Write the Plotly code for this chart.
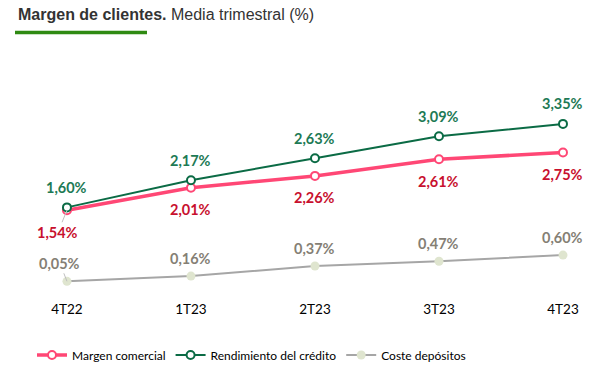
import plotly.graph_objects as go

quarters = ["4T22", "1T23", "2T23", "3T23", "4T23"]
margen = [1.54, 2.01, 2.26, 2.61, 2.75]
rendimiento = [1.60, 2.17, 2.63, 3.09, 3.35]
coste = [0.05, 0.16, 0.37, 0.47, 0.60]

def fmt(v):
    return f"{v:.2f}%".replace(".", ",")

C_M = "#ff4775"
C_R = "#0b6b45"
C_C = "#a6a6a6"
T_M = "#c8102e"
T_R = "#1d7a55"
T_C = "#857f75"

TOP, BOT = 100, 80
PH = 373 - TOP - BOT  # plot height in px

def py(pix):
    # convert a pixel row (from top of figure) to paper y
    return (373 - BOT - pix) / PH

fig = go.Figure()
fig.add_trace(go.Scatter(x=quarters, y=margen, mode="lines+markers", name="Margen comercial",
                         line=dict(color=C_M, width=3.5),
                         marker=dict(symbol="circle", size=8, color="white", line=dict(color=C_M, width=2))))
fig.add_trace(go.Scatter(x=quarters, y=rendimiento, mode="lines+markers", name="Rendimiento del crédito",
                         line=dict(color=C_R, width=2),
                         marker=dict(symbol="circle", size=8, color="white", line=dict(color=C_R, width=2))))
fig.add_trace(go.Scatter(x=quarters, y=coste, mode="lines+markers", name="Coste depósitos",
                         line=dict(color=C_C, width=2),
                         marker=dict(symbol="circle", size=9, color="#dfe5cf", line=dict(width=0))))

lab_font = dict(family="Lato, Carlito, sans-serif", size=14.5)
ann = []
for i, q in enumerate(quarters):
    ann.append(dict(x=q, y=rendimiento[i], text="<b>" + fmt(rendimiento[i]) + "</b>", showarrow=True,
                    arrowcolor="rgba(0,0,0,0)", ax=0, ay=-20, font=dict(color=T_R, **lab_font)))
    lead = i == 0
    ann.append(dict(x=q, y=margen[i], text="<b>" + fmt(margen[i]) + "</b>", showarrow=True,
                    arrowcolor="#bfbfbf" if lead else "rgba(0,0,0,0)", arrowhead=0, arrowwidth=1,
                    ax=-9 if lead else 0, ay=22, font=dict(color=T_M, **lab_font)))
    ann.append(dict(x=q, y=coste[i], text="<b>" + fmt(coste[i]) + "</b>", showarrow=True,
                    arrowcolor="#bfbfbf" if lead else "rgba(0,0,0,0)", arrowhead=0, arrowwidth=1,
                    ax=-7 if lead else 0, ay=-18, font=dict(color=T_C, **lab_font)))

YMIN = -0.195
fig.update_layout(
    width=609, height=373,
    margin=dict(l=0, r=0, t=TOP, b=BOT, autoexpand=False),
    paper_bgcolor="white", plot_bgcolor="white",
    title=dict(text="<b>Margen de clientes.</b> Media trimestral (%)",
               xref="container", yref="container", x=18 / 609, xanchor="left",
               y=1 - 14 / 373, yanchor="middle",
               font=dict(family="Arial, Liberation Sans, sans-serif", size=16, color="#333333")),
    showlegend=True,
    legend=dict(orientation="h", x=32 / 609, xanchor="left", y=py(355), yanchor="middle",
                font=dict(family="Lato, Carlito, sans-serif", size=12, color="#000000"),
                itemwidth=30),
    xaxis=dict(type="category", range=[-0.54, 4.371], showgrid=False, zeroline=False, showline=False,
               ticks="", tickfont=dict(family="Lato, Carlito, sans-serif", size=13.5, color="#000000"),
               ticklabelstandoff=6),
    yaxis=dict(range=[YMIN, YMIN + PH / 47.7], visible=False),
    annotations=ann,
    shapes=[dict(type="line", xref="paper", yref="paper", x0=15 / 609, x1=147 / 609,
                 y0=py(32.5), y1=py(32.5), line=dict(color="#2f8a12", width=3.5))],
)
fig.update_traces(cliponaxis=False)
fig.write_html("out.html", config={"displayModeBar": False},
               post_script="document.body.style.margin='0';document.body.style.overflow='hidden';")
